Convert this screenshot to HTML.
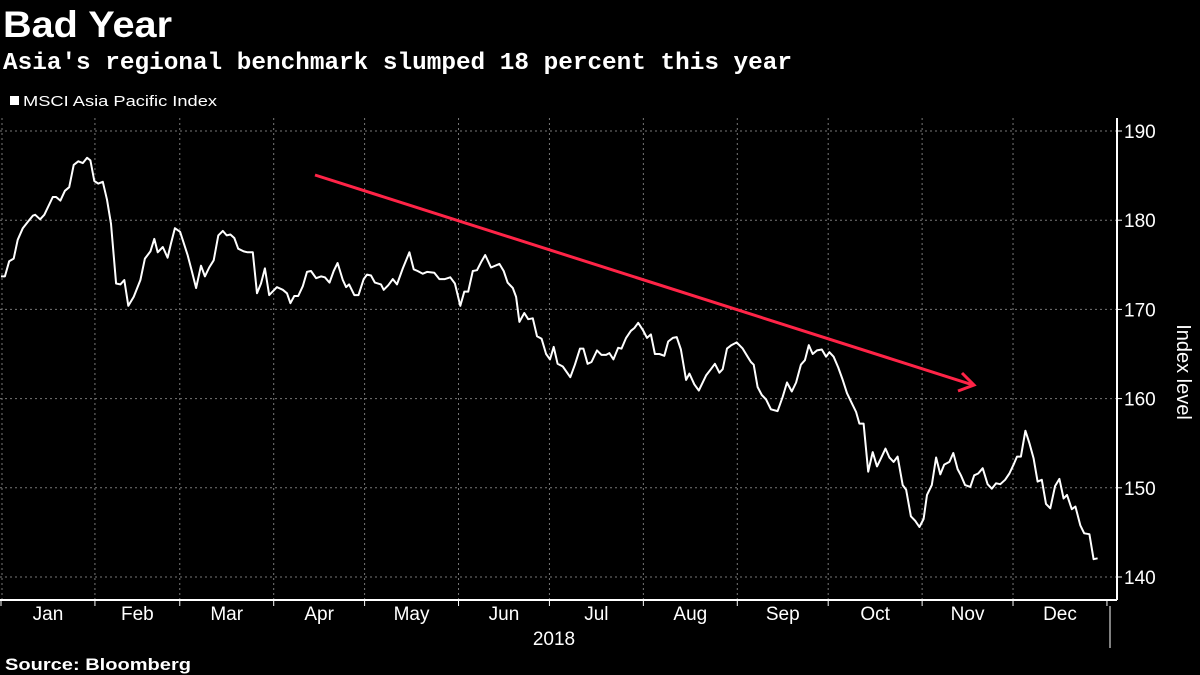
<!DOCTYPE html>
<html><head><meta charset="utf-8"><style>
html,body{margin:0;padding:0;background:#000;width:1200px;height:675px;overflow:hidden}
svg{display:block}
text{font-family:"Liberation Sans Narrow","Liberation Sans",sans-serif;fill:#fff}
</style></head><body>
<svg id="chart" width="1200" height="675" viewBox="0 0 1200 675">
<text x="3" y="37" textLength="169" lengthAdjust="spacingAndGlyphs" style="font-size:37px;font-weight:bold;font-family:'Liberation Sans',sans-serif">Bad Year</text>
<text x="3" y="69" textLength="789" lengthAdjust="spacingAndGlyphs" style="font-size:24px;font-weight:bold;font-family:'Liberation Mono','Liberation Sans',monospace">Asia's regional benchmark slumped 18 percent this year</text>
<g>
<rect x="10" y="96" width="9" height="9" fill="#fff"></rect>
<text x="23" y="106" textLength="194" lengthAdjust="spacingAndGlyphs" style="font-size:15px">MSCI Asia Pacific Index</text>
</g>
<g id="grid"></g>
<g id="axes"></g>
<path id="line" fill="none" stroke="#fff" stroke-width="2" stroke-linejoin="round"></path>
<g>
<line x1="315" y1="175" x2="973" y2="385" stroke="#ff2447" stroke-width="3"></line>
<polyline points="962,373 974,385 958,391" fill="none" stroke="#ff2447" stroke-width="3"></polyline>
</g>
<text x="554" y="645" text-anchor="middle" style="font-size:19px">2018</text>
<text transform="translate(1177,372) rotate(90)" text-anchor="middle" style="font-size:20px">Index level</text>
<text x="5" y="670" textLength="186" lengthAdjust="spacingAndGlyphs" style="font-size:17px;font-weight:bold;font-family:'Liberation Sans',sans-serif">Source: Bloomberg</text>
</svg>
<script>
const days = [0,1.3,2.7,4.2,5.5,7.2,8.8,10.5,11.3,12.9,14.3,17.1,18.2,19.6,21.1,22.5,24,25.5,27,28.4,29.5,30.8,32.1,33.6,35,36.3,38,39.4,40.7,42,43.8,46,47.5,49.3,50.6,51.7,53.4,55,56.1,57.4,59.1,61.6,62.9,64.4,66,67.3,68.7,70.2,71.7,73.2,74.5,75.7,77,78.3,80.1,81.4,83.1,84.5,85.8,87.1,88.5,91.1,93,94.4,95.5,96.8,98.1,99.6,101,102.3,104,105.6,106.9,108.4,109.8,111.1,112.8,113.9,114.9,116.6,118,119.7,120.8,122.1,123.4,125.4,
126.3,127.8,129.3,130.7,132.6,134.8,136.2,137.5,139.2,140.6,143,144.7,146.5,148.3,149.8,151.6,152.9,154.2,155.7,157.1,158.6,159.8,161.7,164.5,165.9,167.2,168.9,170,171.1,172.7,174,175.5,176.9,178.4,179.9,181.2,182.4,183.7,185.4,187.9,189.4,191.1,192.2,193.6,194.9,196.7,198.2,199.7,200.8,202.1,203.7,204.8,206.3,207.9,209,210.3,211.8,213.2,214.5,215.8,217.3,218.9,220.2,221.7,223,224.4,226.1,227.2,228.8,230.3,232.7,234.3,235.6,237.1,238.2,239.6,241.1,242.8,244.8,246.4,247.5,
248.4,249.7,251.1,252.5,254.1,256.3,258,259.4,261,262.4,264,265.3,266.6,267.9,269.3,270.9,272.3,273.4,274.8,276.3,277.8,279.2,280.5,282.2,283.3,284.7,286.2,287.7,289.1,290.4,291.9,293.2,294.6,295.9,297.6,298.7,300.3,301.7,303.1,304.5,305.6,307.2,308.6,310,311.3,313,314.3,315.7,316.8,318.2,319.9,321.2,322.5,324,325.6,327,328.4,329.8,331.4,332.8,334.2,335.3,336.6,338.1,339.4,340.8,342.1,343.5,344.9,346.3,347.9,349.3,350.7,351.8,353.4,354.6,356.2,357.5,359.2,360.6,361.9];
const values = [173.7,173.7,175.4,175.7,177.8,179.1,179.8,180.5,180.6,180.1,180.6,182.6,182.6,182.2,183.3,183.7,186.2,186.6,186.4,187.0,186.7,184.4,184.1,184.3,182.3,179.6,172.9,172.8,173.3,170.4,171.4,173.3,175.7,176.5,177.9,176.4,177.0,175.8,177.4,179.1,178.7,176.1,174.4,172.4,174.9,173.7,174.7,175.5,178.3,178.8,178.3,178.4,178.0,176.8,176.5,176.4,176.4,171.8,172.9,174.6,171.6,172.5,172.2,171.8,170.7,171.5,171.5,172.6,174.2,174.3,173.5,173.7,173.6,173.0,174.3,175.2,173.3,172.5,172.8,171.6,171.6,173.4,173.9,173.8,173.0,172.8,
172.2,172.7,173.4,172.8,174.6,176.4,174.5,174.3,174.0,174.2,174.1,173.4,173.4,173.6,172.9,170.4,172.0,172.0,174.3,174.4,175.4,176.1,174.7,175.1,174.3,173.0,172.4,171.4,168.6,169.6,168.9,169.0,167.0,166.7,165.0,164.4,165.8,163.9,163.6,162.4,163.8,165.6,165.6,163.9,164.1,165.4,164.9,164.9,165.1,164.4,165.7,165.6,166.8,167.6,167.9,168.5,167.7,166.8,167.2,165.0,165.0,164.8,166.4,166.8,166.9,165.5,162.1,162.8,161.6,160.9,162.6,163.3,163.9,162.9,163.3,165.6,166.0,166.3,165.6,164.7,164.1,
163.8,161.3,160.4,159.9,158.8,158.6,160.2,161.8,160.8,161.8,163.8,164.3,166.0,165.0,165.4,165.5,164.7,165.2,164.7,163.5,162.1,160.6,159.7,158.5,157.2,157.2,151.8,154.0,152.4,153.3,154.4,153.4,152.9,153.5,150.3,149.8,146.8,146.3,145.6,146.5,149.2,150.3,153.4,151.5,152.6,152.9,153.9,152.1,151.4,150.3,150.1,151.4,151.6,152.2,150.4,149.9,150.5,150.4,150.9,151.6,152.6,153.5,153.5,156.4,155.0,153.3,150.7,150.9,148.2,147.7,150.2,151.0,148.8,149.2,147.6,147.9,145.8,144.9,144.8,142.0,142.1];
const monthLabels = ["Jan","Feb","Mar","Apr","May","Jun","Jul","Aug","Sep","Oct","Nov","Dec"];
const monthStarts = [0,31,59,90,120,151,181,212,243,273,304,334,365];
const yTicks = [140,150,160,170,180,190];

const NS = "http://www.w3.org/2000/svg";
function xs(d){ return 1 + d * 3.03; }
function ys(v){ return 131 + (190 - v) * 8.92; }
function mk(tag, attrs, parent){ const e = document.createElementNS(NS, tag); for (const k in attrs) e.setAttribute(k, attrs[k]); parent.appendChild(e); return e; }
const grid = document.getElementById('grid');
const axes = document.getElementById('axes');
const AX = 1117, AY = 600, TOP = 118;

yTicks.forEach(function(t){
  const y = ys(t);
  const g = mk('line', {x1:0, x2:AX, y1:y, y2:y, stroke:'#777', 'stroke-width':1, 'stroke-dasharray':'2,3'}, grid);
  
  
  const tk = mk('line', {x1:AX, x2:AX+5, y1:y, y2:y, stroke:'#fff', 'stroke-width':1}, axes);
  
  
  const lb = mk('text', {x:AX+7, y:y+7, style:'font-size:19px'}, axes);
  lb.textContent = t;
  
  
});
monthStarts.forEach(function(d, i){
  const x = xs(d);
  if (i > 0 && i < 12) {
    const g = mk('line', {x1:x, x2:x, y1:TOP, y2:AY, stroke:'#777', 'stroke-width':1, 'stroke-dasharray':'2,3'}, grid);
    
    
  }
  const tk = mk('line', {x1:x, x2:x, y1:AY, y2:AY+6, stroke:'#fff', 'stroke-width':1}, axes);
  
  
  if (i < 12) {
    const lb = mk('text', {x:(xs(d)+xs(monthStarts[i+1]))/2, y:AY+20, 'text-anchor':'middle', style:'font-size:19px'}, axes);
    lb.textContent = monthLabels[i];
    
    
  }
});
const g0 = mk('line', {x1:2, x2:2, y1:TOP, y2:AY, stroke:'#777', 'stroke-width':1, 'stroke-dasharray':'2,3'}, grid);


const xa = mk('line', {x1:0, x2:AX, y1:AY, y2:AY, stroke:'#fff', 'stroke-width':2}, axes);


const ya = mk('line', {x1:AX, x2:AX, y1:TOP, y2:AY, stroke:'#fff', 'stroke-width':2}, axes);


const sep = mk('line', {x1:1110, x2:1110, y1:AY+6, y2:AY+48, stroke:'#fff', 'stroke-width':1}, axes);



let d = '';
for (let i = 0; i < values.length; i++) d += (i ? 'L' : 'M') + xs(days[i]).toFixed(1) + ',' + ys(values[i]).toFixed(1);
document.getElementById('line').setAttribute('d', d);
</script>
</body></html>
